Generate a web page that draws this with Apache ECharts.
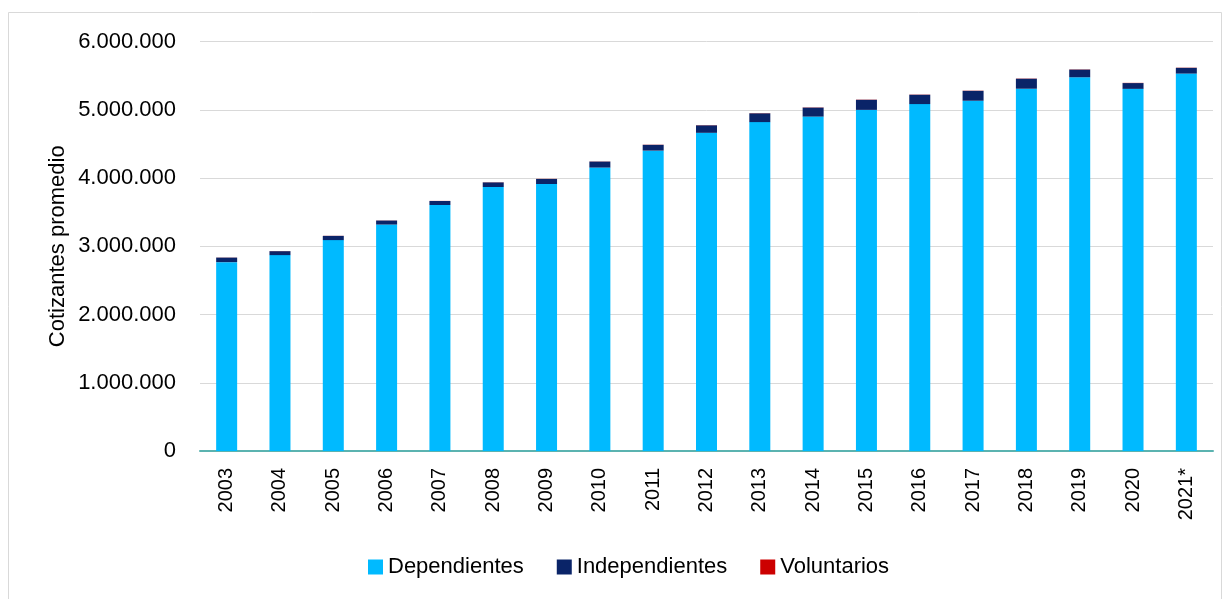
<!DOCTYPE html>
<html>
<head>
<meta charset="utf-8">
<script src="https://cdn.jsdelivr.net/npm/echarts@6/dist/echarts.min.js"></script>
<style>
html,body{margin:0;padding:0;background:#fff;}
#chart{width:1225px;height:599px;}
</style>
</head>
<body>
<div id="chart"></div>
<script>
const years = ['2003','2004','2005','2006','2007','2008','2009','2010','2011','2012','2013','2014','2015','2016','2017','2018','2019','2020','2021*'];
const dependientes = [2767000,2870000,3090000,3318000,3604000,3868000,3912000,4153000,4401000,4662000,4819000,4900000,4998000,5083000,5132000,5308000,5476000,5306000,5530000];
const independientes = [67000,58000,62000,59000,59000,68000,74000,88000,85000,110000,129000,132000,148000,137000,145000,147000,113000,85000,84000];
const voluntarios = [1500,1500,1500,1500,1500,2000,2000,2000,2500,2500,2500,3000,3000,3000,3000,3000,3000,3000,3000];
const yTicks = [0,1000000,2000000,3000000,4000000,5000000,6000000];

const fontFam = '"Liberation Sans", Arial, sans-serif';
function fmt(v){ return v === 0 ? '0' : String(v).replace(/\B(?=(\d{3})+(?!\d))/g, '.'); }

const chart = echarts.init(document.getElementById('chart'), null, {renderer:'canvas'});
chart.setOption({
  animation:false,
  backgroundColor:'#ffffff',
  textStyle:{fontFamily:fontFam},
  graphic:[{type:'rect',shape:{x:8.5,y:12.5,width:1213,height:600},style:{fill:'none',stroke:'#d9d9d9',lineWidth:1},silent:true,z:-10}],
  grid:{left:200,right:12,top:41.5,bottom:148,containLabel:false},
  legend:{
    data:['Dependientes','Independientes','Voluntarios'],
    bottom:16, left:363,
    itemWidth:15, itemHeight:15, itemGap:33,
    icon:'rect',
    textStyle:{fontSize:22,color:'#000',fontFamily:fontFam}
  },
  xAxis:{
    type:'category',
    data:years,
    axisTick:{show:false},
    axisLine:{lineStyle:{color:'#5BB3B0',width:2}},
    axisLabel:{rotate:90,fontSize:20,color:'#000',margin:17,fontFamily:fontFam,interval:0}
  },
  yAxis:{
    type:'value',
    min:yTicks[0], max:yTicks[yTicks.length-1], interval:1000000,
    name:'Cotizantes promedio',
    nameLocation:'middle',
    nameGap:131,
    nameMoveOverlap:false,
    nameRotate:90,
    nameTextStyle:{fontSize:22,color:'#000',fontFamily:fontFam},
    axisLine:{show:false},
    axisTick:{show:false},
    axisLabel:{fontSize:22,color:'#000',margin:24,formatter:fmt,fontFamily:fontFam},
    splitLine:{lineStyle:{color:'#d9d9d9',width:1}}
  },
  series:[
    {name:'Dependientes',type:'bar',stack:'t',data:dependientes,barWidth:21,itemStyle:{color:'#00BAFF'}},
    {name:'Independientes',type:'bar',stack:'t',data:independientes,itemStyle:{color:'#0A2468'}},
    {name:'Voluntarios',type:'bar',stack:'t',data:voluntarios,itemStyle:{color:'#CC0000'}}
  ]
});
</script>
</body>
</html>
